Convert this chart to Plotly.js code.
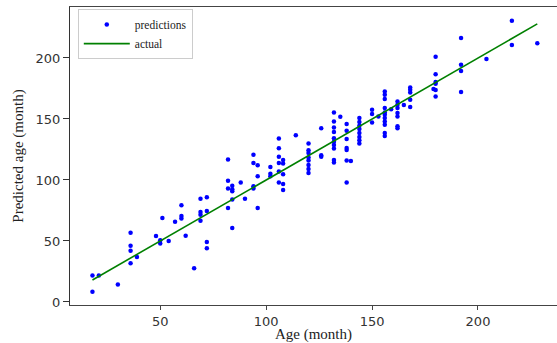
<!DOCTYPE html>
<html>
<head>
<meta charset="utf-8">
<script src="https://cdn.plot.ly/plotly-3.0.1.min.js"></script>
<style>html,body{margin:0;padding:0;background:#fff;overflow:hidden}#chart{width:557px;height:343px}</style>
</head>
<body>
<div id="chart"></div>
<script>
// Actual age (month) of each sample
const actualAges = [
  18,18,21,30,36,36,36,36,39,48,50,50,51,54,57,60,60,60,62,66,
  69,69,69,69,72,72,72,72,82,82,82,82,84,84,84,84,84,88,90,
  94,94,94,94,96,96,96,102,102,102,106,106,106,106,106,106,
  108,108,108,108,108,114,120,120,120,120,120,120,120,120,126,126,126,
  132,132,132,132,132,132,132,132,132,132,135,138,138,138,138,138,138,138,140,
  144,144,144,144,144,144,144,144,150,150,150,153,
  156,156,156,156,156,156,156,156,156,156,156,159,
  162,162,162,162,162,162,162,165,168,168,168,168,168,179,
  180,180,180,180,180,180,192,192,192,192,204,216,216,228
];
// Predicted age (month) of each sample
const predictedAges = [
  21.6,8.3,21.6,14.3,56.8,46.1,42,31.7,36.9,54.1,50.6,47.9,68.9,50,65.8,79.2,70.4,68.4,54.2,27.7,
  84.6,73.8,71.5,66.5,85.8,74.5,49.2,44,116.7,99.4,93,77,95.3,92.3,90.8,83.9,60.7,98,84.7,
  120.7,113.9,94.8,93,112,103,77,110.6,105.2,103,134,126,119.1,113.9,107,98,
  116.3,113.5,104.6,96.7,91.7,136.6,129.8,124.3,122.1,118.5,116,112.3,109,105.7,142.3,120.2,119,
  155.4,148,143.1,139.3,134.1,131.4,128.7,125.9,116.4,114.4,151.9,145.9,140.4,133.6,126.2,124.5,116,98,115.6,
  150.8,147.6,144.5,141.8,138.5,135.2,132.5,129.8,157.6,154.1,147.2,152.1,
  172.6,169.9,166.4,159,155.4,153.5,150.8,148,145.3,138.5,136,158,
  164.4,161.7,159,154.9,152.1,144,142.3,161.5,175.9,174,171.8,165.8,159.8,174.6,
  201,186.6,180.3,178.8,173.8,168.5,216.4,194.5,189.3,172.1,199.2,230.6,210.7,212
];
const xTicks = [50, 100, 150, 200];
const yTicks = [0, 50, 100, 150, 200];

const lineX = [...new Set(actualAges)].sort((a, b) => a - b);

const traces = [
  {
    x: actualAges, y: predictedAges, type: 'scatter', mode: 'markers', name: 'predictions',
    marker: {color: '#0000ff', size: 4.5}
  },
  {
    x: lineX, y: lineX, type: 'scatter', mode: 'lines', name: 'actual',
    line: {color: '#008000', width: 1.6}
  }
];

const tickFont = {family: 'DejaVu Sans', size: 13, color: '#333'};
const layout = {
  width: 557, height: 343,
  margin: {l: 70, r: 0, t: 7, b: 38},
  paper_bgcolor: '#fff', plot_bgcolor: '#fff',
  showlegend: true,
  legend: {
    x: 0.016, y: 0.993, xanchor: 'left', yanchor: 'top',
    bgcolor: '#fff', bordercolor: '#cccccc', borderwidth: 1,
    font: {family: 'Liberation Serif', size: 11.5, color: '#222'},
    itemwidth: 46, tracegroupgap: 0
  },
  xaxis: {
    range: [7.4, 237.3], tickvals: xTicks, ticktext: xTicks.map(String),
    showgrid: false, zeroline: false, showline: true, linecolor: '#444', linewidth: 1,
    mirror: true, ticks: 'outside', ticklen: 4, tickcolor: '#444',
    tickfont: tickFont,
    title: {text: 'Age (month)', font: {family: 'Liberation Serif', size: 15, color: '#222'}, standoff: 6}
  },
  yaxis: {
    range: [-2.5, 241.8], tickvals: yTicks, ticktext: yTicks.map(String),
    showgrid: false, zeroline: false, showline: true, linecolor: '#333', linewidth: 1,
    ticks: 'outside', ticklen: 6, tickcolor: '#333',
    tickfont: tickFont,
    title: {text: 'Predicted age (month)', font: {family: 'Liberation Serif', size: 15, color: '#222'}, standoff: 8}
  }
};

Plotly.newPlot('chart', traces, layout, {displayModeBar: false, staticPlot: true});
</script>
</body>
</html>
